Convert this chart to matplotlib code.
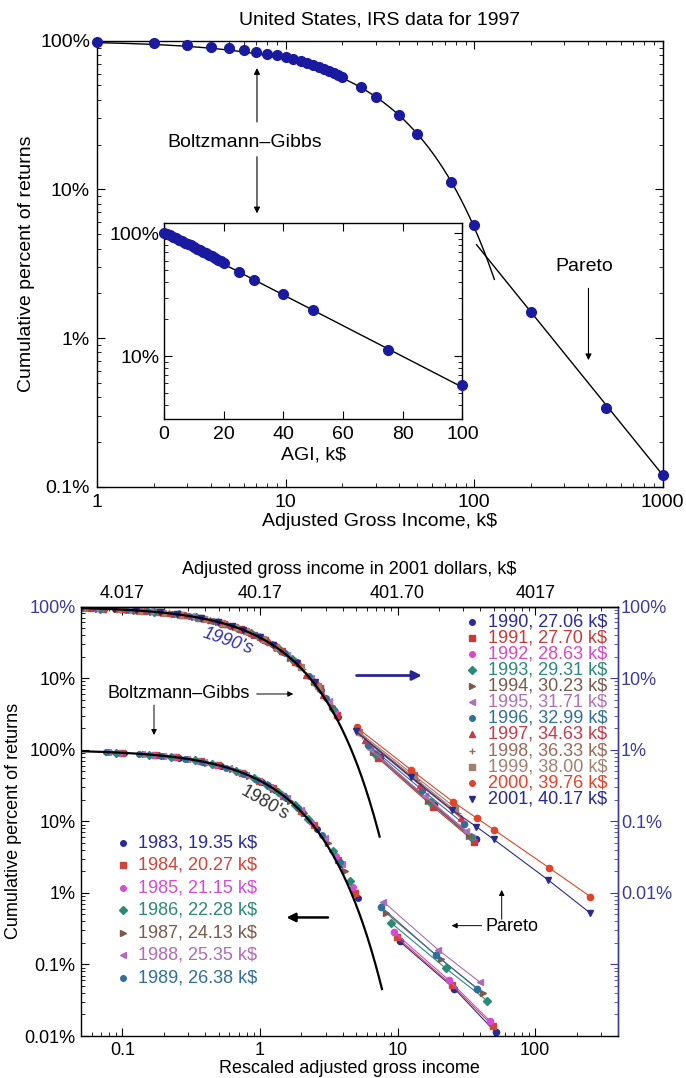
import numpy as np
import matplotlib
matplotlib.use('Agg')
import matplotlib.pyplot as plt
from matplotlib.ticker import LogLocator, NullFormatter

plt.rcParams['font.family'] = ['Liberation Sans', 'DejaVu Sans']
plt.rcParams['axes.linewidth'] = 1.0

# --- IRS 1997: cumulative fraction of returns above a given AGI (k$) ---
agi_1997 = [0, 1, 2, 3, 4, 5, 6, 7, 8, 9, 10, 11, 12, 13, 14, 15, 16, 17, 18, 19, 20,
            25, 30, 40, 50, 75, 100, 200, 500, 1000]
cum_1997 = [1.0, 0.985, 0.962, 0.937, 0.912, 0.888, 0.864, 0.840, 0.818, 0.797, 0.774,
            0.751, 0.729, 0.708, 0.688, 0.668, 0.648, 0.628, 0.610, 0.592, 0.573,
            0.487, 0.420, 0.318, 0.237, 0.112, 0.058, 0.015, 0.0034, 0.0012]
T_1997 = 34.63            # exponential fit, k$
pareto_A_1997 = 61.1      # power-law fit  A * x**-alpha
pareto_alpha_1997 = 1.569
exp_fit_end = 128
pareto_fit_start = 103

# --- 1983-2001, rescaled by the temperature T of each year ---
brackets_k = [2, 3.5, 5, 7.5, 10, 15, 20, 25, 30, 40, 50, 75, 100]
tail_brackets_k = [200, 500, 1000, 1500, 2000, 5000, 10000]

years_80s = [1983, 1984, 1985, 1986, 1987, 1988, 1989]
temp_80s = [19.35, 20.27, 21.15, 22.28, 24.13, 25.35, 26.38]
bg_pct_80s = [
    [90.0, 83.5, 77.5, 67.9, 59.0, 45.5, 35.0, 27.2, 21.0, 12.9, 7.9, 2.5, 0.85],
    [90.4, 84.1, 78.3, 69.1, 60.6, 47.2, 36.8, 28.8, 22.6, 14.0, 8.8, 2.9, 1.0],
    [90.9, 84.7, 79.2, 70.1, 61.8, 48.8, 38.3, 30.3, 24.0, 15.2, 9.7, 3.3, 1.2],
    [91.3, 85.5, 80.1, 71.4, 63.2, 50.4, 40.2, 32.1, 25.8, 16.7, 10.9, 3.9, 1.45],
    [91.8, 86.5, 81.4, 73.3, 65.6, 53.1, 43.1, 35.0, 28.6, 19.2, 13.0, 5.0, 2.0],
    [92.2, 87.1, 82.2, 74.4, 66.9, 54.7, 44.8, 36.9, 30.4, 20.8, 14.4, 5.9, 2.5],
    [92.6, 87.6, 82.8, 75.3, 68.0, 56.0, 46.3, 38.3, 31.8, 22.1, 15.5, 6.4, 2.7],
]
tail_pct_80s = [
    [0.21, 0.046, 0.0112],
    [0.24, 0.052, 0.0138],
    [0.28, 0.060, 0.0160],
    [0.38, 0.088, 0.031],
    [0.52, 0.118, 0.040],
    [0.75, 0.160, 0.057],
    [0.64, 0.135, 0.046],
]

years_90s = [1990, 1991, 1992, 1993, 1994, 1995, 1996, 1997, 1998, 1999, 2000, 2001]
temp_90s = [27.06, 27.70, 28.63, 29.31, 30.23, 31.71, 32.99, 34.63, 36.33, 38.00, 39.76, 40.17]
bg_pct_90s = [
    [92.8, 87.9, 83.2, 75.8, 68.8, 57.0, 47.4, 39.5, 33.0, 23.0, 16.2, 6.8, 2.9],
    [92.9, 88.1, 83.6, 76.3, 69.4, 57.8, 48.2, 40.3, 33.8, 23.8, 16.8, 7.2, 3.1],
    [93.2, 88.5, 84.0, 77.0, 70.2, 58.8, 49.3, 41.5, 35.0, 24.9, 17.8, 7.8, 3.5],
    [93.4, 88.7, 84.4, 77.4, 70.9, 59.6, 50.2, 42.4, 35.8, 25.7, 18.5, 8.2, 3.7],
    [93.6, 89.1, 84.8, 78.0, 71.6, 60.5, 51.3, 43.5, 37.0, 26.7, 19.4, 8.9, 4.1],
    [93.9, 89.5, 85.4, 78.9, 72.8, 62.0, 52.9, 45.2, 38.7, 28.4, 21.0, 9.9, 4.8],
    [94.1, 89.9, 85.9, 79.7, 73.7, 63.2, 54.2, 46.6, 40.1, 29.8, 22.3, 10.8, 5.3],
    [94.4, 91.5, 86.6, 81.5, 75.5, 65.0, 57.0, 48.7, 42.0, 31.8, 23.7, 11.2, 5.8],
    [94.6, 90.8, 87.1, 81.4, 75.8, 66.0, 57.5, 50.1, 43.7, 33.4, 25.6, 13.3, 6.9],
    [94.9, 91.2, 87.7, 82.1, 76.8, 67.2, 58.9, 51.6, 45.3, 35.0, 27.1, 14.5, 7.8],
    [95.1, 91.6, 88.2, 82.8, 77.7, 68.4, 60.3, 53.1, 46.9, 36.7, 28.8, 15.9, 8.8],
    [95.1, 91.7, 88.3, 83.0, 77.9, 68.6, 60.6, 53.5, 47.2, 37.0, 29.1, 16.1, 8.9],
]
tail_pct_90s = [
    [0.80, 0.170, 0.056],
    [0.76, 0.160, 0.052],
    [0.86, 0.185, 0.061],
    [0.88, 0.185, 0.060],
    [0.93, 0.195, 0.063],
    [1.02, 0.225, 0.074],
    [1.18, 0.272, 0.092],
    [1.38, 0.325, 0.112],
    [1.56, 0.380, 0.131],
    [1.75, 0.440, 0.154],
    [2.05, 0.520, 0.188, 0.110, 0.0757, 0.0225, 0.00885],
    [1.80, 0.420, 0.144, 0.0841, 0.0561, 0.0151, 0.00529],
]
bg_end_80s = 7.7
bg_end_90s = 7.4
dollars_2001 = ['4.017', '40.17', '401.70', '4017']

colors_80s = ['#2a2a9a', '#d0453a', '#d44bd4', '#2a8a78', '#7a5a4a', '#b06ab8', '#2f6f9a']
markers_80s = ['o', 's', 'o', 'D', '>', '<', 'o']
colors_90s = ['#2a2a9a', '#c83a3a', '#d848c8', '#2a8a78', '#7a5a4a', '#b070b8',
              '#2f6f9a', '#c83a4a', '#9a6a5a', '#a08070', '#e0442a', '#2a2a8a']
markers_90s = ['o', 's', 'o', 'D', '>', '<', 'o', '^', '+', 's', 'o', 'v']
BLUE = '#3b3b9c'
DOT = '#1a1aa0'


def style_log_ticks(ax, size):
    ax.tick_params(which='both', direction='in', top=True, right=True, labelsize=size)
    ax.tick_params(which='major', length=6, pad=5)
    ax.tick_params(which='minor', length=3)


fig = plt.figure(figsize=(6.86, 10.78), dpi=100)

# ---------------- upper figure: 1997 ----------------
ax1 = fig.add_axes([0.1415, 0.5485, 0.8245, 0.4137])
ax1.set_xscale('log')
ax1.set_yscale('log')
ax1.set_xlim(1, 1000)
ax1.set_ylim(0.001, 1.0)

agi = np.array(agi_1997, dtype=float)
cum = np.array(cum_1997)
xe = np.linspace(1, exp_fit_end, 300)
ax1.plot(xe, np.exp(-xe / T_1997), color='k', lw=1.0, zorder=2)
xp = np.logspace(np.log10(pareto_fit_start), 3, 100)
ax1.plot(xp, pareto_A_1997 * xp ** -pareto_alpha_1997, color='k', lw=1.0, zorder=2)
ax1.plot(agi[agi > 0], cum[agi > 0], 'o', color=DOT, ms=7, clip_on=False, zorder=3)

ax1.set_xticks([1, 10, 100, 1000], labels=['1', '10', '100', '1000'])
ax1.set_yticks([1, 0.1, 0.01, 0.001], labels=['100%', '10%', '1%', '0.1%'])
ax1.yaxis.set_minor_formatter(NullFormatter())
ax1.xaxis.set_minor_formatter(NullFormatter())
style_log_ticks(ax1, 14)
ax1.set_title('United States, IRS data for 1997', fontsize=14, pad=12)
ax1.set_xlabel('Adjusted Gross Income, k$', fontsize=14, labelpad=2)
ax1.set_ylabel('Cumulative percent of returns', fontsize=14, labelpad=4)

arrow = dict(arrowstyle='-|>', color='k', lw=0.8, mutation_scale=9, shrinkA=0, shrinkB=0)
ax1.text(6.09, 0.206, 'Boltzmann\u2013Gibbs', fontsize=14, ha='center', va='center')
ax1.annotate('', xy=(7.05, 0.655), xytext=(7.05, 0.284), arrowprops=arrow)
ax1.annotate('', xy=(7.05, 0.069), xytext=(7.05, 0.166), arrowprops=arrow)
ax1.text(383, 0.0302, 'Pareto', fontsize=14, ha='center', va='center')
ax1.annotate('', xy=(404, 0.0071), xytext=(404, 0.0216), arrowprops=arrow)

# inset: same data on a linear income axis
axi = fig.add_axes([0.2391, 0.6110, 0.435, 0.1818])
axi.set_yscale('log')
axi.set_xlim(0, 100)
axi.set_ylim(0.0305, 1.206)
xi = np.linspace(0, 100, 200)
axi.plot(xi, np.exp(-xi / T_1997), color='k', lw=1.0, zorder=2)
axi.plot(agi[agi <= 100], cum[agi <= 100], 'o', color=DOT, ms=7, clip_on=False, zorder=3)
axi.set_xticks([0, 20, 40, 60, 80, 100])
axi.set_yticks([1, 0.1], labels=['100%', '10%'])
axi.yaxis.set_minor_formatter(NullFormatter())
style_log_ticks(axi, 14)
axi.tick_params(axis='y', which='major', pad=3)
axi.set_xlabel('AGI, k$', fontsize=14, labelpad=2)

# ---------------- lower figure: 1983-2001 ----------------
ax2 = fig.add_axes([0.1181, 0.03896, 0.7828, 0.3984])
ax2.set_xscale('log')
ax2.set_yscale('log')
ax2.set_xlim(0.05, 400)
ax2.set_ylim(1e-4, 1e2)

# 1990's are drawn in percent units (upper curve), 1980's in fractions (lower curve)
for T, bg, tail, c, m in zip(temp_80s, bg_pct_80s, tail_pct_80s, colors_80s, markers_80s):
    ax2.plot(np.array(brackets_k) / T, np.array(bg) / 100, ls='none', marker=m,
             color=c, ms=4, zorder=2)
    ax2.plot(np.array(tail_brackets_k[:len(tail)]) / T, np.array(tail) / 100, ls='-',
             lw=0.8, marker=m, color=c, ms=4.5, zorder=2)
for T, bg, tail, c, m in zip(temp_90s, bg_pct_90s, tail_pct_90s, colors_90s, markers_90s):
    ax2.plot(np.array(brackets_k) / T, np.array(bg), ls='none', marker=m,
             color=c, ms=4, zorder=2)
    ax2.plot(np.array(tail_brackets_k[:len(tail)]) / T, np.array(tail), ls='-',
             lw=0.8, marker=m, color=c, ms=4.5, zorder=2)

r80 = np.logspace(np.log10(0.05), np.log10(bg_end_80s), 300)
r90 = np.logspace(np.log10(0.05), np.log10(bg_end_90s), 300)
ax2.plot(r80, np.exp(-r80), color='k', lw=1.6, zorder=3)
ax2.plot(r90, 100 * np.exp(-r90), color='k', lw=1.6, zorder=3)

ax2.set_yticks([1e2, 1e1, 1, 1e-1, 1e-2, 1e-3, 1e-4],
               labels=['100%', '10%', '100%', '10%', '1%', '0.1%', '0.01%'])
ax2.get_yticklabels()[0].set_color(BLUE)
ax2.set_xticks([0.1, 1, 10, 100], labels=['0.1', '1', '10', '100'])
ax2.yaxis.set_minor_locator(LogLocator(subs=np.arange(2, 10), numticks=20))
ax2.yaxis.set_minor_formatter(NullFormatter())
ax2.xaxis.set_minor_formatter(NullFormatter())
ax2.tick_params(which='both', direction='in', top=False, right=False, labelsize=13)
ax2.tick_params(which='major', length=6, pad=4)
ax2.tick_params(which='minor', length=3)
ax2.spines['right'].set_color(BLUE)
ax2.set_xlabel('Rescaled adjusted gross income', fontsize=13, labelpad=1)
ax2.set_ylabel('Cumulative percent of returns', fontsize=13, labelpad=2)

top = ax2.secondary_xaxis('top')
top.set_xticks([0.1, 1, 10, 100], labels=dollars_2001)
top.xaxis.set_minor_formatter(NullFormatter())
top.tick_params(which='both', direction='in', labelsize=13, pad=3)
top.tick_params(which='major', length=6)
top.tick_params(which='minor', length=3)
top.set_xlabel('Adjusted gross income in 2001 dollars, k$', fontsize=13, labelpad=8)

right = ax2.secondary_yaxis('right')
right.set_yticks([1e2, 1e1, 1, 1e-1, 1e-2, 1e-3, 1e-4],
                 labels=['100%', '10%', '1%', '0.1%', '0.01%', '', ''])
right.yaxis.set_minor_locator(LogLocator(subs=np.arange(2, 10), numticks=20))
right.yaxis.set_minor_formatter(NullFormatter())
right.tick_params(which='both', direction='in', colors=BLUE, labelsize=13, pad=2)
right.tick_params(which='major', length=6)
right.tick_params(which='minor', length=3)
right.spines['right'].set_color(BLUE)

# hand-placed legends with coloured labels
for i, (yr, T, c, m) in enumerate(zip(years_90s, temp_90s, colors_90s, markers_90s)):
    y = 0.9646 - i * 0.0375
    ax2.plot([0.7276], [y], marker=m, color=c, ms=4, ls='none', transform=ax2.transAxes)
    ax2.text(0.7585, y, f'{yr}, {T:.2f} k$', color=c, fontsize=13, va='center',
             transform=ax2.transAxes)
for i, (yr, T, c, m) in enumerate(zip(years_80s, temp_80s, colors_80s, markers_80s)):
    y = 0.450 - i * 0.0524
    ax2.plot([0.0788], [y], marker=m, color=c, ms=4, ls='none', transform=ax2.transAxes)
    ax2.text(0.1067, y, f'{yr}, {T:.2f} k$', color=c, fontsize=13, va='center',
             transform=ax2.transAxes)

ax2.text(0.588, 32.2, "1990's", color='#3030b0', fontsize=13, style='italic',
         rotation=-19, ha='center', va='center')
ax2.text(1.087, 0.178, "1980's", color='#333333', fontsize=13, rotation=-30,
         ha='center', va='center')
ax2.text(0.2547, 6.13, 'Boltzmann\u2013Gibbs', fontsize=13, ha='center', va='center')
thin = dict(arrowstyle='-|>', color='k', lw=0.7, mutation_scale=8, shrinkA=0, shrinkB=0)
ax2.annotate('', xy=(1.746, 6.0), xytext=(0.946, 6.0), arrowprops=thin)
ax2.annotate('', xy=(0.1696, 1.604), xytext=(0.1696, 4.21), arrowprops=thin)
ax2.annotate('', xy=(15.0, 10.87), xytext=(5.03, 10.87),
             arrowprops=dict(arrowstyle='-|>', color='#28288c', lw=2.0,
                             mutation_scale=14, shrinkA=0, shrinkB=0))
ax2.annotate('', xy=(1.557, 0.00453), xytext=(3.12, 0.00453),
             arrowprops=dict(arrowstyle='-|>', color='k', lw=1.8,
                             mutation_scale=13, shrinkA=0, shrinkB=0))
ax2.text(67.5, 0.00337, 'Pareto', fontsize=13, ha='center', va='center')
ax2.annotate('', xy=(24.7, 0.00348), xytext=(40.8, 0.00348), arrowprops=thin)
ax2.annotate('', xy=(57.1, 0.01098), xytext=(57.1, 0.00428), arrowprops=thin)

fig.savefig('out.png', dpi=100)
